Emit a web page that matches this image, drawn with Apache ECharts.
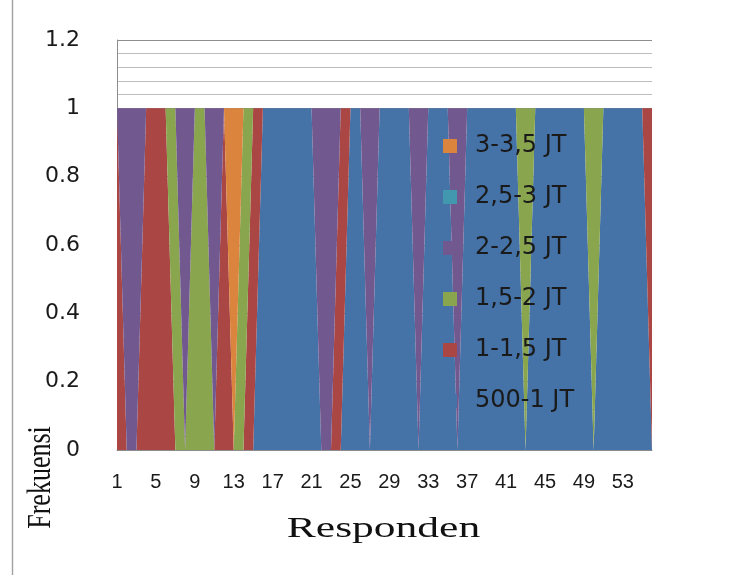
<!DOCTYPE html>
<html>
<head>
<meta charset="utf-8">
<script src="https://cdn.jsdelivr.net/npm/echarts@6/dist/echarts.min.js"></script>
<style>
  html, body { margin: 0; padding: 0; background: #ffffff; }
  #chart { width: 747px; height: 575px; }
</style>
</head>
<body>
<div id="chart"></div>
<script>
// Respondents (category axis)
const categories = ['1','2','3','4','5','6','7','8','9','10','11','12','13','14','15','16','17','18','19','20',
  '21','22','23','24','25','26','27','28','29','30','31','32','33','34','35','36','37','38','39','40',
  '41','42','43','44','45','46','47','48','49','50','51','52','53','54','55','56'];

// Series names (income groups), bottom of stack first
const seriesNames = ['500-1 JT', '1-1,5 JT', '1,5-2 JT', '2-2,5 JT', '2,5-3 JT', '3-3,5 JT'];

// Frequencies per respondent (1 = respondent belongs to the group)
const grp500_1 = [0,0,0,0,0,0,0,0, 0,0,0,0,0,0,0,1, 1,1,1,1,1,0,0,0, 1,1,0,1,1,1,1,0,
                  1,1,1,0,1,1,1,1, 1,1,0,1,1,1,1,1, 1,0,1,1,1,1,1,0];
const grp1_15  = [1,0,0,1,1,1,0,0, 0,0,0,1,0,0,1,0, 0,0,0,0,0,0,0,1, 0,0,0,0,0,0,0,0,
                  0,0,0,0,0,0,0,0, 0,0,0,0,0,0,0,0, 0,0,0,0,0,0,0,1];
const grp15_2  = [0,0,0,0,0,0,1,0, 1,1,0,0,0,1,0,0, 0,0,0,0,0,0,0,0, 0,0,0,0,0,0,0,0,
                  0,0,0,0,0,0,0,0, 0,0,1,0,0,0,0,0, 0,1,0,0,0,0,0,0];
const grp2_25  = [0,1,1,0,0,0,0,1, 0,0,1,0,0,0,0,0, 0,0,0,0,0,1,1,0, 0,0,1,0,0,0,0,1,
                  0,0,0,1,0,0,0,0, 0,0,0,0,0,0,0,0, 0,0,0,0,0,0,0,0];
const grp25_3  = [0,0,0,0,0,0,0,0, 0,0,0,0,0,0,0,0, 0,0,0,0,0,0,0,0, 0,0,0,0,0,0,0,0,
                  0,0,0,0,0,0,0,0, 0,0,0,0,0,0,0,0, 0,0,0,0,0,0,0,0];
const grp3_35  = [0,0,0,0,0,0,0,0, 0,0,0,0,1,0,0,0, 0,0,0,0,0,0,0,0, 0,0,0,0,0,0,0,0,
                  0,0,0,0,0,0,0,0, 0,0,0,0,0,0,0,0, 0,0,0,0,0,0,0,0];

const seriesValues = [grp500_1, grp1_15, grp15_2, grp2_25, grp25_3, grp3_35];
const seriesColors = ['#4572A7', '#AA4643', '#89A54E', '#71588F', '#4198AF', '#DB843D'];

const yTicks = { min: 0, max: 1.2, interval: 0.2 };
const xTitle = 'Responden';
const yTitle = 'Frekuensi';

const chart = echarts.init(document.getElementById('chart'), null, { renderer: 'canvas' });

const series = seriesNames.map((name, i) => ({
  name: name,
  type: 'line',
  stack: 'total',
  data: seriesValues[i],
  showSymbol: false,
  symbol: 'none',
  smooth: false,
  lineStyle: { width: 0, color: seriesColors[i] },
  itemStyle: { color: seriesColors[i] },
  areaStyle: { color: seriesColors[i], opacity: 1 },
  emphasis: { disabled: true }
}));

chart.setOption({
  animation: false,
  backgroundColor: '#ffffff',
  grid: { left: 117, right: 95, top: 40, bottom: 125, containLabel: false },
  legend: {
    data: seriesNames.slice().reverse(),
    orient: 'vertical',
    left: 443,
    top: 134,
    icon: 'rect',
    itemWidth: 14,
    itemHeight: 14,
    itemGap: 27,
    selectedMode: false,
    backgroundColor: 'transparent',
    padding: 0,
    textStyle: {
      fontFamily: 'DejaVu Sans',
      fontSize: 24,
      lineHeight: 24,
      color: '#1a1a1a',
      padding: [0, 0, 0, 13]
    }
  },
  xAxis: {
    type: 'category',
    data: categories,
    boundaryGap: false,
    axisLine: { show: true, lineStyle: { color: '#8c8c8c', width: 1 } },
    axisTick: { show: false },
    axisLabel: {
      interval: 3,
      margin: 22,
      fontFamily: 'Liberation Sans',
      fontSize: 20,
      color: '#1a1a1a'
    },
    splitLine: { show: false }
  },
  yAxis: {
    type: 'value',
    min: yTicks.min,
    max: yTicks.max,
    interval: yTicks.interval,
    axisLine: { show: true, lineStyle: { color: '#8c8c8c', width: 1 } },
    axisTick: { show: false },
    axisLabel: {
      margin: 37,
      fontFamily: 'DejaVu Sans',
      fontSize: 22,
      color: '#1a1a1a'
    },
    splitLine: { show: true, lineStyle: { color: '#8e8e8e', width: 1.2 } },
    minorTick: { show: false, splitNumber: 5 },
    minorSplitLine: { show: true, lineStyle: { color: '#bdbdbd', width: 1.2 } }
  },
  series: series,
  graphic: [
    {
      type: 'line',
      shape: { x1: 12.5, y1: 0, x2: 12.5, y2: 575 },
      style: { stroke: '#a0a0a0', lineWidth: 1.4 },
      silent: true
    },
    {
      type: 'text',
      x: 383.5,
      y: 529.5,
      scaleX: 1.5,
      style: {
        text: xTitle,
        fontFamily: 'Liberation Serif',
        fontSize: 29,
        fill: '#111111',
        align: 'center',
        verticalAlign: 'middle'
      },
      silent: true
    },
    {
      type: 'text',
      x: 41,
      y: 477.5,
      rotation: Math.PI / 2,
      scaleY: 1.3,
      style: {
        text: yTitle,
        fontFamily: 'Liberation Serif',
        fontSize: 26,
        fill: '#111111',
        align: 'center',
        verticalAlign: 'middle'
      },
      silent: true
    }
  ]
});
</script>
</body>
</html>
